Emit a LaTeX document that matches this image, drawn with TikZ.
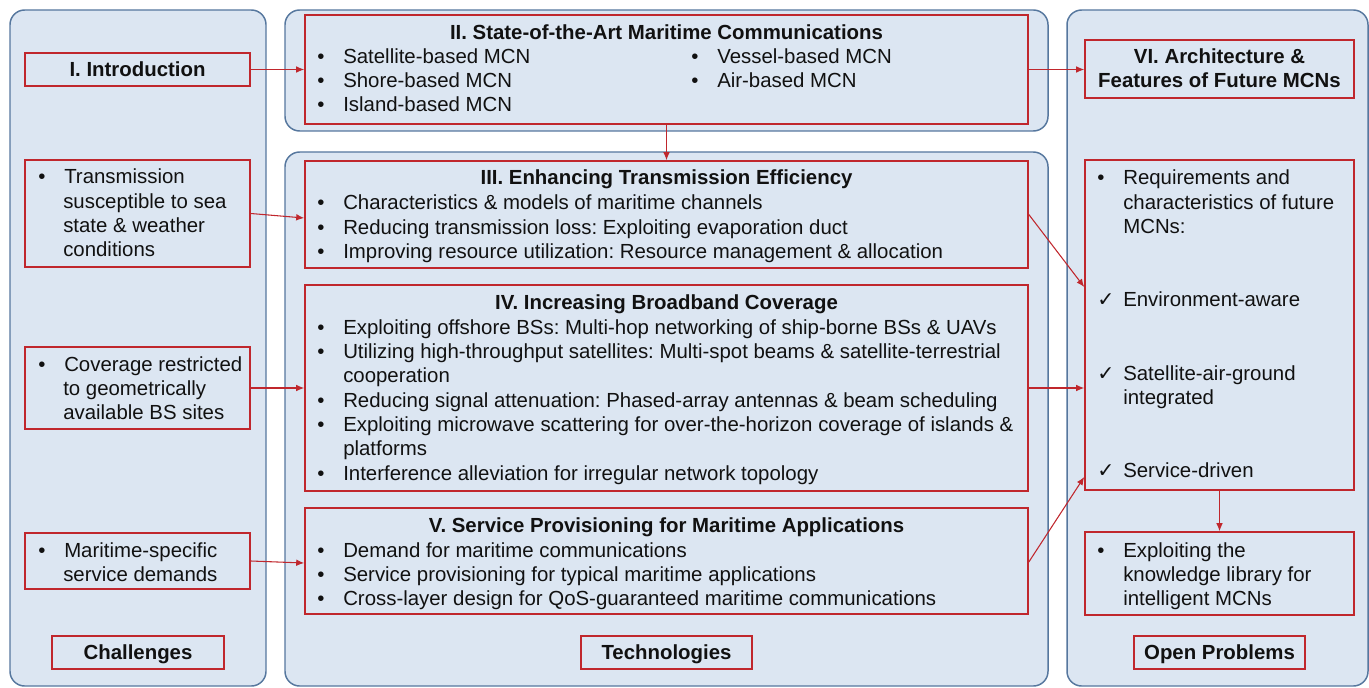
\documentclass[tikz,border=0pt]{standalone}
\usepackage{fontspec}
\setmainfont{Liberation Sans}
\newfontfamily\djv{DejaVu Sans}
\usetikzlibrary{fit,arrows.meta,calc}
\definecolor{panelfill}{HTML}{DCE6F2}
\definecolor{panelline}{HTML}{56779E}
\definecolor{redc}{HTML}{C0272D}
\definecolor{txtc}{HTML}{111111}
\frenchspacing
\tikzset{
  panel/.style={draw=panelline,fill=panelfill,line width=1.1pt,rounded corners=11pt},
  rbox/.style={draw=redc,fill=panelfill,line width=1.2pt,inner sep=0pt},
  txt/.style={anchor=base west,inner sep=0pt,text=txtc,font=\fontsize{15.3}{18}\selectfont},
  btxt/.style={anchor=base,inner sep=0pt,text=txtc,font=\fontsize{15.3}{18}\selectfont\bfseries},
  arr/.style={draw=redc,line width=0.8pt,-{Latex[length=6pt,width=5pt]}}
}
\newcommand\bul{\makebox[19.5pt][l]{•}}
\newcommand\chk{\makebox[19.5pt][l]{\djv ✓}}
\begin{document}
\begin{tikzpicture}[x=0.75pt,y=-0.75pt]
\useasboundingbox (0,0) rectangle (1369,688);
% panels
\draw[panel] (10,10) rectangle (266,686);
\draw[panel] (285,10) rectangle (1048,131);
\draw[panel] (285,152) rectangle (1048,686);
\draw[panel] (1067,10) rectangle (1368,686);
% red boxes
\node[rbox,fit={(25,53)(250,86)}] (intro) {};
\node[rbox,fit={(25,160)(250,267)}] (trans) {};
\node[rbox,fit={(25,347)(250,429)}] (cov) {};
\node[rbox,fit={(25,533)(250,589)}] (mar) {};
\node[rbox,fit={(52,636)(224,669)}] (chal) {};
\node[rbox,fit={(305,15)(1028,124)}] (ii) {};
\node[rbox,fit={(305,161)(1028,268)}] (iii) {};
\node[rbox,fit={(305,285)(1028,491)}] (iv) {};
\node[rbox,fit={(305,508)(1028,614)}] (v) {};
\node[rbox,fit={(581,636)(752,669)}] (tech) {};
\node[rbox,fit={(1085,40)(1354,98)}] (vi) {};
\node[rbox,fit={(1085,160)(1354,490)}] (req) {};
\node[rbox,fit={(1085,532)(1354,615)}] (know) {};
\node[rbox,fit={(1134,636)(1305,669)}] (open) {};
% headings
\node[btxt] (introT) at (137.5,76.7) {I. Introduction};
\node[btxt] (chalT) at (138,659.7) {Challenges};
\node[btxt] (techT) at (666.5,659.7) {Technologies};
\node[btxt] (openT) at (1219.5,659.7) {Open Problems};
\node[btxt] (viT1) at (1219.5,64) {VI. Architecture \&};
\node[btxt] (viT2) at (1219.5,88) {Features of Future MCNs};
% II
\node[btxt] (iiT) at (666.5,40) {II. State-of-the-Art Maritime Communications};
\node[txt] (ii1) at (317,64) {\bul Satellite-based MCN};
\node[txt] (ii2) at (317,88) {\bul Shore-based MCN};
\node[txt] (ii3) at (317,112) {\bul Island-based MCN};
\node[txt] (ii4) at (691,64) {\bul Vessel-based MCN};
\node[txt] (ii5) at (691,88) {\bul Air-based MCN};
% III
\node[btxt] (iiiT) at (666.5,185) {III. Enhancing Transmission Efficiency};
\node[txt] (iii1) at (317,209.5) {\bul Characteristics \& models of maritime channels};
\node[txt] (iii2) at (317,234) {\bul Reducing transmission loss: Exploiting evaporation duct};
\node[txt] (iii3) at (317,258) {\bul Improving resource utilization: Resource management \& allocation};
% IV
\node[btxt] (ivT) at (666.5,309) {IV. Increasing Broadband Coverage};
\node[txt] (iv1) at (317,334) {\bul Exploiting offshore BSs: Multi-hop networking of ship-borne BSs \& UAVs};
\node[txt] (iv2) at (317,358) {\bul Utilizing high-throughput satellites: Multi-spot beams \& satellite-terrestrial};
\node[txt] (iv2b) at (343,382) {cooperation};
\node[txt] (iv3) at (317,407) {\bul Reducing signal attenuation: Phased-array antennas \& beam scheduling};
\node[txt] (iv4) at (317,431) {\bul Exploiting microwave scattering for over-the-horizon coverage of islands \&};
\node[txt] (iv4b) at (343,455) {platforms};
\node[txt] (iv5) at (317,480) {\bul Interference alleviation for irregular network topology};
% V
\node[btxt] (vT) at (666.5,532) {V. Service Provisioning for Maritime Applications};
\node[txt] (v1) at (317,557) {\bul Demand for maritime communications};
\node[txt] (v2) at (317,581) {\bul Service provisioning for typical maritime applications};
\node[txt] (v3) at (317,605) {\bul Cross-layer design for QoS-guaranteed maritime communications};
% left
\node[txt] (tr1) at (38,183) {\bul Transmission};
\node[txt] (tr2) at (63,208) {susceptible to sea};
\node[txt] (tr3) at (63,232) {state \& weather};
\node[txt] (tr4) at (63,256) {conditions};
\node[txt] (cv1) at (38,371) {\bul Coverage restricted};
\node[txt] (cv2) at (63,395) {to geometrically};
\node[txt] (cv3) at (63,419) {available BS sites};
\node[txt] (mr1) at (38,557) {\bul Maritime-specific};
\node[txt] (mr2) at (63,581) {service demands};
% right
\node[txt] (rq1) at (1097,185) {\bul Requirements and};
\node[txt] (rq2) at (1123,209) {characteristics of future};
\node[txt] (rq3) at (1123,233) {MCNs:};
\node[txt] (rq4) at (1097,306) {\chk Environment-aware};
\node[txt] (rq5) at (1097,380) {\chk Satellite-air-ground};
\node[txt] (rq5b) at (1123,404) {integrated};
\node[txt] (rq6) at (1097,477) {\chk Service-driven};
\node[txt] (kn1) at (1097,557) {\bul Exploiting the};
\node[txt] (kn2) at (1123,581) {knowledge library for};
\node[txt] (kn3) at (1123,605) {intelligent MCNs};
% arrows
\draw[arr] (intro.east) -- (intro.east -| ii.west);
\draw[arr] (ii.east |- intro.east) -- (vi.west |- intro.east);
\draw[arr] (ii.south) -- (iii.north);
\draw[arr] (trans.east) -- ($(iii.west)+(0,3.5)$);
\draw[arr] (cov.east) -- (iv.west);
\draw[arr] (mar.east) -- ($(v.west)+(0,2)$);
\draw[arr] (iii.east) -- ($(req.west)+(0,-38)$);
\draw[arr] (iv.east) -- (req.west |- iv.east);
\draw[arr] ($(v.east)+(0,1)$) -- ($(req.west)+(0,152)$);
\draw[arr] (req.south) -- (know.north);
\end{tikzpicture}
\end{document}
